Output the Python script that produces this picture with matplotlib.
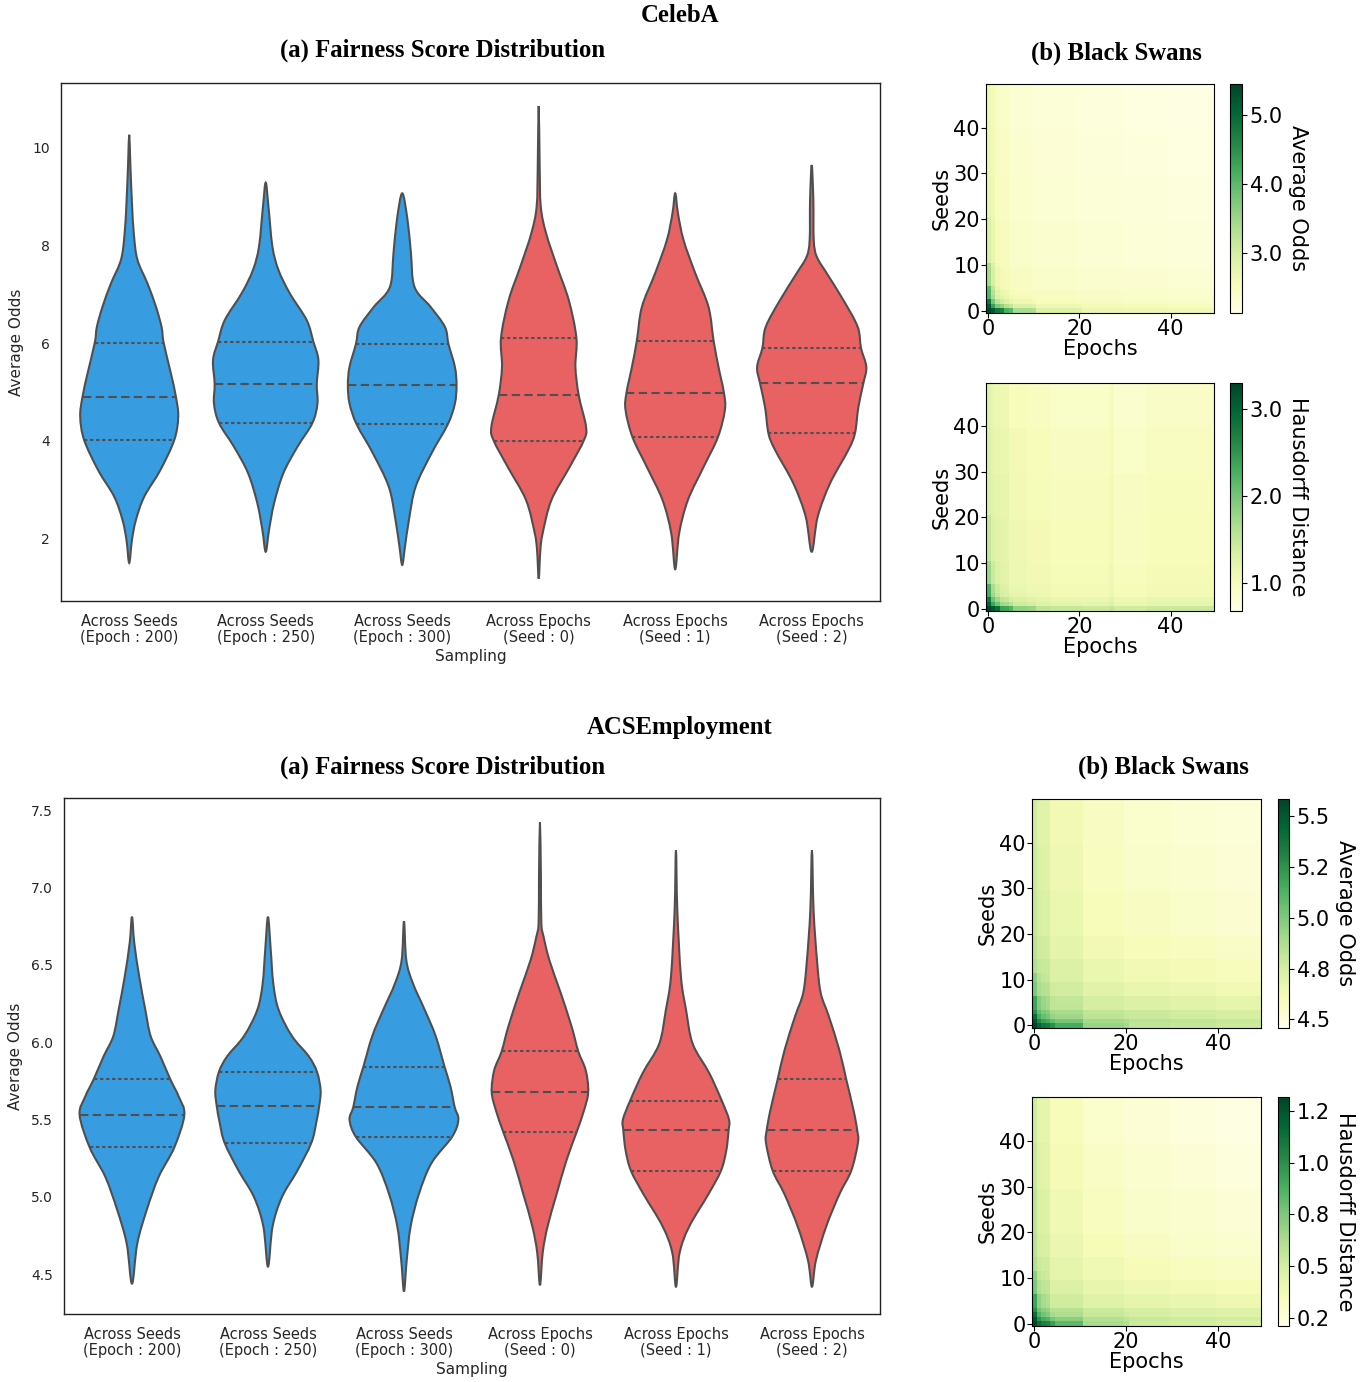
import numpy as np
import matplotlib
matplotlib.use("Agg")
import matplotlib.pyplot as plt
from matplotlib.path import Path
from matplotlib.patches import PathPatch

# Categorias do eixo x (iguais nos dois datasets)
categories = ["Across Seeds\n(Epoch : 200)", "Across Seeds\n(Epoch : 250)",
              "Across Seeds\n(Epoch : 300)", "Across Epochs\n(Seed : 0)",
              "Across Epochs\n(Seed : 1)", "Across Epochs\n(Seed : 2)"]
violin_colors = ["#389ce1"] * 3 + ["#e86264"] * 3
line_color = "#4f4f4f"

# CelebA: contorno dos violinos (valor, meia-largura)
celeba_y = [
    [10.27, 9.69, 8.87, 8.2, 7.70, 7.22, 6.75, 6.33, 6.01, 5.38, 4.90, 4.49, 4.01, 3.39, 2.85, 2.37, 1.96, 1.49],
    [9.29, 8.80, 7.98, 7.50, 7.02, 6.47, 6.03, 5.65, 5.16, 4.76, 4.36, 3.87, 3.33, 2.71, 2.16, 1.72],
    [9.07, 8.52, 7.84, 7.15, 6.74, 6.33, 5.98, 5.51, 5.14, 4.76, 4.34, 3.74, 3.05, 2.37, 1.82, 1.45],
    [10.86, 9.62, 8.80, 8.25, 7.57, 6.88, 6.11, 5.51, 4.93, 4.28, 4.00, 3.46, 2.78, 2.10, 1.75, 1.17],
    [9.07, 8.66, 8.11, 7.43, 6.74, 6.05, 5.51, 4.98, 4.63, 4.07, 3.46, 2.78, 2.10, 1.36],
    [9.65, 8.93, 8.11, 7.77, 7.43, 6.88, 6.33, 5.90, 5.51, 5.18, 4.69, 4.15, 3.81, 3.12, 2.44, 1.72],
]
celeba_w = [
    [0, 0.008, 0.02, 0.035, 0.061, 0.134, 0.195, 0.237, 0.252, 0.305, 0.342, 0.359, 0.330, 0.227, 0.110, 0.049, 0.020, 0],
    [0, 0.020, 0.049, 0.093, 0.176, 0.300, 0.349, 0.386, 0.374, 0.379, 0.342, 0.232, 0.129, 0.061, 0.024, 0],
    [0, 0.039, 0.064, 0.090, 0.208, 0.313, 0.339, 0.386, 0.398, 0.386, 0.335, 0.215, 0.098, 0.049, 0.020, 0],
    [0, 0.007, 0.015, 0.054, 0.134, 0.220, 0.276, 0.269, 0.293, 0.347, 0.330, 0.227, 0.093, 0.029, 0.012, 0],
    [0, 0.020, 0.061, 0.147, 0.244, 0.281, 0.317, 0.357, 0.364, 0.313, 0.208, 0.093, 0.029, 0],
    [0, 0.012, 0.015, 0.037, 0.110, 0.232, 0.337, 0.361, 0.400, 0.379, 0.342, 0.317, 0.269, 0.134, 0.044, 0],
]
celeba_q1 = [4.01, 4.36, 4.34, 4.00, 4.07, 4.15]
celeba_med = [4.90, 5.16, 5.14, 4.93, 4.98, 5.18]
celeba_q3 = [6.01, 6.03, 5.98, 6.11, 6.05, 5.90]

# ACSEmployment
acs_y = [
    [6.81, 6.64, 6.42, 6.21, 6.04, 5.91, 5.76, 5.65, 5.53, 5.32, 5.13, 4.92, 4.70, 4.44],
    [6.81, 6.60, 6.38, 6.21, 6.04, 5.91, 5.81, 5.69, 5.59, 5.48, 5.35, 5.17, 5.00, 4.81, 4.55],
    [6.78, 6.53, 6.38, 6.21, 6.04, 5.84, 5.71, 5.58, 5.50, 5.39, 5.22, 5.02, 4.81, 4.59, 4.39],
    [7.42, 7.07, 6.77, 6.68, 6.53, 6.32, 6.10, 5.94, 5.82, 5.68, 5.56, 5.42, 5.24, 5.02, 4.81, 4.64, 4.43],
    [7.24, 6.85, 6.42, 6.21, 5.99, 5.80, 5.62, 5.50, 5.43, 5.30, 5.17, 5.02, 4.81, 4.64, 4.42],
    [7.24, 6.85, 6.53, 6.32, 6.17, 5.95, 5.76, 5.56, 5.43, 5.35, 5.17, 5.02, 4.81, 4.59, 4.42],
]
acs_w = [
    [0, 0.017, 0.054, 0.098, 0.137, 0.208, 0.282, 0.343, 0.385, 0.311, 0.196, 0.110, 0.039, 0],
    [0, 0.020, 0.039, 0.078, 0.176, 0.299, 0.360, 0.387, 0.377, 0.355, 0.319, 0.216, 0.103, 0.034, 0],
    [0, 0.017, 0.066, 0.152, 0.233, 0.299, 0.343, 0.373, 0.400, 0.355, 0.203, 0.110, 0.049, 0.020, 0],
    [0, 0.007, 0.010, 0.027, 0.069, 0.152, 0.233, 0.282, 0.336, 0.355, 0.324, 0.270, 0.196, 0.123, 0.056, 0.020, 0],
    [0, 0.010, 0.037, 0.074, 0.123, 0.245, 0.338, 0.390, 0.387, 0.370, 0.331, 0.240, 0.098, 0.027, 0],
    [0, 0.012, 0.037, 0.064, 0.123, 0.201, 0.252, 0.306, 0.333, 0.338, 0.289, 0.203, 0.105, 0.029, 0],
]
acs_q1 = [5.32, 5.35, 5.39, 5.42, 5.17, 5.17]
acs_med = [5.53, 5.59, 5.58, 5.68, 5.43, 5.43]
acs_q3 = [5.76, 5.81, 5.84, 5.94, 5.62, 5.76]

# Heatmaps (50 seeds x 50 epochs), níveis lidos em blocos (n células, valor)
edge_decay = [1.0, 0.4, 0.16, 0.06, 0.02]

celeba_ao_base = 2.14
celeba_ao_seed = [(2, 0.30), (3, 0.22), (5, 0.16), (10, 0.10), (10, 0.07), (10, 0.04), (10, 0.01)]
celeba_ao_epoch = [(2, 0.36), (3, 0.25), (5, 0.16), (10, 0.10), (10, 0.06), (10, 0.03), (10, 0.0)]
celeba_ao_row0 = [(1, 1.3), (3, 1.9), (2, 1.4), (5, 0.8), (10, 0.35), (29, 0.2)]
celeba_ao_col0 = [(1, 1.3), (2, 1.9), (3, 1.3), (5, 0.75), (10, 0.35), (29, 0.18)]

celeba_hd_base = 0.68
celeba_hd_seed = [(1, 0.45), (2, 0.33), (3, 0.27), (4, 0.24), (10, 0.21), (10, 0.19), (10, 0.16), (10, 0.12)]
celeba_hd_epoch = [(2, 0.30), (3, 0.30), (4, 0.2), (5, 0.15), (13, 0.1), (1, 0.17), (7, 0.06), (15, 0.11)]
celeba_hd_row0 = [(1, 0.94), (2, 1.3), (3, 0.9), (5, 0.5), (10, 0.25), (29, 0.2)]
celeba_hd_col0 = [(1, 0.94), (2, 1.3), (3, 1.0), (5, 0.55), (10, 0.3), (29, 0.15)]

acs_ao_base = 4.47
acs_ao_seed = [(1, 0.26), (1, 0.30), (2, 0.26), (3, 0.20), (3, 0.15), (5, 0.11), (5, 0.08), (10, 0.05), (10, 0.03), (10, 0.02)]
acs_ao_epoch = [(1, 0.25), (3, 0.21), (7, 0.14), (9, 0.08), (10, 0.05), (10, 0.03), (10, 0.01)]
acs_ao_row0 = [(1, 0.3), (4, 0.38), (6, 0.28), (10, 0.12), (29, 0.04)]
acs_ao_col0 = [(1, 0.3), (2, 0.38), (4, 0.26), (5, 0.13), (38, 0.03)]

acs_hd_base = 0.21
acs_hd_seed = [(1, 0.22), (1, 0.27), (2, 0.24), (3, 0.18), (3, 0.14), (5, 0.10), (5, 0.07), (10, 0.05), (10, 0.03), (10, 0.01)]
acs_hd_epoch = [(1, 0.26), (3, 0.2), (7, 0.12), (9, 0.07), (10, 0.04), (10, 0.02), (10, 0.0)]
acs_hd_row0 = [(1, 0.31), (4, 0.38), (6, 0.28), (10, 0.13), (29, 0.05)]
acs_hd_col0 = [(1, 0.31), (2, 0.38), (4, 0.27), (5, 0.14), (38, 0.04)]


def runs(pairs):
    return np.concatenate([np.full(n, v, dtype=float) for n, v in pairs])


def build_grid(base, seed, epoch, row0, col0):
    sharp = np.zeros(50)
    sharp[:len(edge_decay)] = edge_decay
    return (base + runs(seed)[:, None] + runs(epoch)[None, :]
            + np.outer(sharp, runs(row0)) + np.outer(runs(col0), sharp))


def draw_violin(ax, pos, ys, ws, q1, med, q3, color):
    ys = np.asarray(ys, float)
    ws = np.asarray(ws, float)
    right = np.column_stack([pos + ws, ys])
    left = np.column_stack([pos - ws[-2:0:-1], ys[-2:0:-1]])
    pts = np.vstack([right, left])
    n = len(pts)
    verts = [pts[0]]
    codes = [Path.MOVETO]
    for i in range(n):
        p0, p1, p2, p3 = pts[i - 1], pts[i], pts[(i + 1) % n], pts[(i + 2) % n]
        verts += [p1 + (p2 - p0) / 6, p2 - (p3 - p1) / 6, p2]
        codes += [Path.CURVE4] * 3
    verts.append(pts[0])
    codes.append(Path.CLOSEPOLY)
    ax.add_patch(PathPatch(Path(verts, codes), facecolor=color, edgecolor=line_color,
                           lw=1.5, zorder=2))
    # linhas de quartis
    for val, dash in [(q1, (1.6, 1.3)), (q3, (1.6, 1.3)), (med, (4.0, 2.1))]:
        hw = np.interp(val, ys[::-1], ws[::-1])
        ax.plot([pos - hw, pos + hw], [val, val], color=line_color, lw=1.5,
                linestyle=(0, dash), zorder=3)


def violin_panel(rect, ys_all, ws_all, q1s, meds, q3s, ylim, yticks, ylabels):
    ax = fig.add_axes(rect)
    for i in range(len(categories)):
        draw_violin(ax, i, ys_all[i], ws_all[i], q1s[i], meds[i], q3s[i], violin_colors[i])
    ax.set_xlim(-0.5, 5.5)
    ax.set_ylim(*ylim)
    ax.set_xticks(range(len(categories)))
    ax.set_xticklabels(categories, fontsize=10.5, color="#262626", linespacing=1.1)
    ax.set_yticks(yticks)
    ax.set_yticklabels(ylabels, fontsize=10, color="#262626")
    ax.tick_params(axis="x", length=0, pad=9)
    ax.tick_params(axis="y", length=0, pad=8)
    ax.set_xlabel("Sampling", fontsize=11, color="#262626", labelpad=3)
    ax.set_ylabel("Average Odds", fontsize=11, color="#262626", labelpad=6)
    for sp in ax.spines.values():
        sp.set_color("#222222")
        sp.set_linewidth(1.0)
    return ax


def heat_panel(rect, crect, grid, vmin, vmax, cticks, clabel):
    ax = fig.add_axes(rect)
    im = ax.imshow(grid, origin="lower", aspect="auto", cmap="YlGn", vmin=vmin, vmax=vmax,
                   interpolation="nearest")
    ax.set_xticks([0, 20, 40])
    ax.set_yticks([0, 10, 20, 30, 40])
    ax.tick_params(labelsize=15, pad=1)
    ax.set_xlabel("Epochs", fontsize=15, labelpad=0)
    ax.set_ylabel("Seeds", fontsize=15, labelpad=1)
    cax = fig.add_axes(crect)
    cb = fig.colorbar(im, cax=cax, ticks=cticks, format="%.1f")
    cb.ax.tick_params(labelsize=15, pad=2)
    cb.set_label(clabel, rotation=270, fontsize=15, labelpad=18)
    return ax


fig = plt.figure(figsize=(13.7, 13.82), dpi=100)
title_font = dict(family="Liberation Serif", weight="bold", fontsize=17.8, ha="center", va="center")

# ---- CelebA ----
fig.text(0.4964, 0.9885, "CelebA", **title_font)
fig.text(0.3234, 0.9634, "(a) Fairness Score Distribution", **title_font)
fig.text(0.8146, 0.9612, "(b) Black Swans", **title_font)

violin_panel([0.0445, 0.5651, 0.5978, 0.3748], celeba_y, celeba_w, celeba_q1, celeba_med, celeba_q3,
             (0.71, 11.33), [2, 4, 6, 8, 10], ["2", "4", "6", "8", "10"])

heat_panel([0.7197, 0.7735, 0.1664, 0.1657], [0.8978, 0.7735, 0.0088, 0.1657],
           build_grid(celeba_ao_base, celeba_ao_seed, celeba_ao_epoch, celeba_ao_row0, celeba_ao_col0),
           2.13, 5.45, [3.0, 4.0, 5.0], "Average Odds")
heat_panel([0.7197, 0.5579, 0.1664, 0.1650], [0.8978, 0.5579, 0.0088, 0.1650],
           build_grid(celeba_hd_base, celeba_hd_seed, celeba_hd_epoch, celeba_hd_row0, celeba_hd_col0),
           0.68, 3.30, [1.0, 2.0, 3.0], "Hausdorff Distance")

# ---- ACSEmployment ----
fig.text(0.4964, 0.4735, "ACSEmployment", **title_font)
fig.text(0.3234, 0.4446, "(a) Fairness Score Distribution", **title_font)
fig.text(0.8489, 0.4446, "(b) Black Swans", **title_font)

violin_panel([0.0467, 0.0492, 0.5956, 0.3734], acs_y, acs_w, acs_q1, acs_med, acs_q3,
             (4.244, 7.578), [4.5, 5.0, 5.5, 6.0, 6.5, 7.0, 7.5],
             ["4.5", "5.0", "5.5", "6.0", "6.5", "7.0", "7.5"])

heat_panel([0.7533, 0.2564, 0.1674, 0.1653], [0.9326, 0.2564, 0.0083, 0.1653],
           build_grid(acs_ao_base, acs_ao_seed, acs_ao_epoch, acs_ao_row0, acs_ao_col0),
           4.46, 5.58, [4.5, 4.75, 5.0, 5.25, 5.5], "Average Odds")
heat_panel([0.7533, 0.0405, 0.1674, 0.1655], [0.9326, 0.0405, 0.0083, 0.1655],
           build_grid(acs_hd_base, acs_hd_seed, acs_hd_epoch, acs_hd_row0, acs_hd_col0),
           0.21, 1.315, [0.25, 0.5, 0.75, 1.0, 1.25], "Hausdorff Distance")

fig.savefig("out.png", dpi=100)
